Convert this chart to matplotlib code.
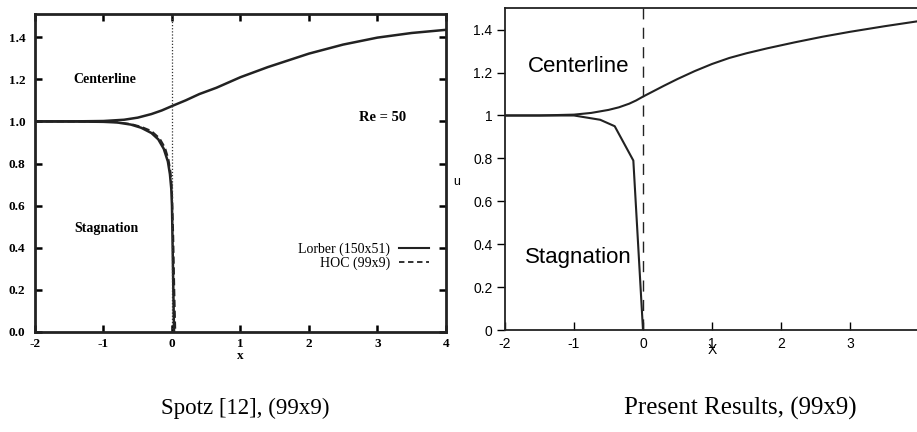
import matplotlib
matplotlib.use("Agg")
import matplotlib.pyplot as plt
from matplotlib.lines import Line2D

plt.rcParams['axes.unicode_minus'] = False

# Spotz [12] - Lorber (150x51), solid
lor_center_x = [-2.0, -1.5, -1.0, -0.7, -0.5, -0.3, -0.15, 0.0, 0.2, 0.4, 0.65, 1.0, 1.4, 2.0, 2.5, 3.0, 3.5, 4.0]
lor_center_u = [1.0, 1.0, 1.002, 1.008, 1.018, 1.035, 1.052, 1.073, 1.10, 1.13, 1.16, 1.21, 1.258, 1.322, 1.365, 1.398, 1.42, 1.435]
lor_stag_x = [-2.0, -1.5, -1.0, -0.8, -0.6, -0.45, -0.3, -0.2, -0.12, -0.06, -0.03, -0.01, 0.0, 0.01, 0.02, 0.03]
lor_stag_u = [1.0, 1.0, 0.998, 0.995, 0.985, 0.97, 0.945, 0.915, 0.87, 0.81, 0.75, 0.68, 0.6, 0.4, 0.2, 0.0]

# Spotz [12] - HOC (99x9), dashed
hoc_stag_x = [-2.0, -1.0, -0.8, -0.6, -0.45, -0.3, -0.18, -0.1, -0.05, -0.02, 0.0, 0.02, 0.035, 0.05]
hoc_stag_u = [1.0, 0.999, 0.996, 0.988, 0.975, 0.955, 0.92, 0.875, 0.82, 0.76, 0.68, 0.45, 0.2, 0.0]

# Present results (99x9)
pr_center_x = [-2.0, -1.5, -1.0, -0.75, -0.5, -0.35, -0.2, -0.1, 0.0, 0.15, 0.3, 0.5, 0.75, 1.0, 1.25, 1.5, 1.8, 2.2, 2.6, 3.0, 3.5, 4.0]
pr_center_u = [1.0, 1.0, 1.004, 1.012, 1.026, 1.038, 1.055, 1.07, 1.088, 1.113, 1.138, 1.17, 1.207, 1.24, 1.268, 1.29, 1.313, 1.341, 1.367, 1.39, 1.416, 1.44]
pr_stag_x = [-2.0, -1.0, -0.62, -0.41, -0.14, 0.0]
pr_stag_u = [1.0, 1.0, 0.98, 0.95, 0.79, 0.0]

xticks = [-2, -1, 0, 1, 2, 3, 4]
left_xlabels = ['-2', '-1', '0', '1', '2', '3', '4']
right_xlabels = ['-2', '-1', '0', '1', '2', '3', '']
yticks = [0.0, 0.2, 0.4, 0.6, 0.8, 1.0, 1.2, 1.4]
left_ylabels = ['0.0', '0.2', '0.4', '0.6', '0.8', '1.0', '1.2', '1.4']
right_ylabels = ['0', '0.2', '0.4', '0.6', '0.8', '1', '1.2', '1.4']

fig = plt.figure(figsize=(9.17, 4.32), dpi=100)

serif = ['Liberation Serif', 'DejaVu Serif']
sans = ['Liberation Sans', 'DejaVu Sans']

# ---- left panel (Spotz) ----
ax1 = fig.add_axes([0.0382, 0.2315, 0.448, 0.736])
ax1.plot(lor_center_x, lor_center_u, color='#222222', lw=1.8)
ax1.plot(lor_stag_x, lor_stag_u, color='#222222', lw=1.8)
ax1.plot(hoc_stag_x, hoc_stag_u, color='#222222', lw=1.3, linestyle=(0, (4, 2)))
ax1.axvline(0, color='#333333', lw=0.9, linestyle=(0, (1, 1.5)))
ax1.set_xlim(-2, 4)
ax1.set_ylim(0, 1.51)
ax1.set_xticks(xticks)
ax1.set_xticklabels(left_xlabels)
ax1.set_yticks(yticks)
ax1.set_yticklabels(left_ylabels)
ax1.tick_params(direction='in', top=True, right=True, length=5, width=1.8,
                labelsize=9.5)
ax1.tick_params(axis='y', pad=7)
ax1.tick_params(axis='x', pad=4)
for lab in ax1.get_xticklabels() + ax1.get_yticklabels():
    lab.set_family(serif)
    lab.set_fontweight('bold')
for sp in ax1.spines.values():
    sp.set_linewidth(2)
    sp.set_color('#222222')
ax1.set_xlabel('x', family=serif, fontweight='bold', fontsize=9.5, labelpad=0)
ax1.text(-0.98, 1.2, 'Centerline', family=serif, fontweight='bold', fontsize=10,
         ha='center', va='center')
ax1.text(-0.95, 0.49, 'Stagnation', family=serif, fontweight='bold', fontsize=10,
         ha='center', va='center')
ax1.text(3.07, 1.02, 'Re = 50', family=serif, fontweight='bold', fontsize=10.5,
         ha='center', va='center')

legend_elements = [
    Line2D([0], [0], color='#222222', lw=1.5, label='Lorber (150x51)'),
    Line2D([0], [0], color='#222222', lw=1.3, linestyle=(0, (3, 2)), label='HOC (99x9)'),
]
ax1.legend(handles=legend_elements, loc='lower right', bbox_to_anchor=(0.99, 0.155),
           frameon=False, markerfirst=False, handlelength=2.2, handletextpad=0.6,
           labelspacing=0.05, prop={'family': serif, 'size': 10})

# ---- right panel (present results) ----
ax2 = fig.add_axes([0.5507, 0.236, 0.4515, 0.745])
ax2.plot(pr_center_x, pr_center_u, color='#222222', lw=1.5)
ax2.plot(pr_stag_x, pr_stag_u, color='#222222', lw=1.5)
ax2.axvline(0, color='#222222', lw=1.0, linestyle=(0, (8, 6)))
ax2.set_xlim(-2, 4)
ax2.set_ylim(0, 1.5)
ax2.set_xticks(xticks)
ax2.set_xticklabels(right_xlabels)
ax2.set_yticks(yticks)
ax2.set_yticklabels(right_ylabels)
ax2.tick_params(axis='x', direction='in', length=6, width=1.0, labelsize=10, pad=5)
ax2.tick_params(axis='y', direction='out', length=6, width=1.0, labelsize=10, pad=3)
for lab in ax2.get_xticklabels() + ax2.get_yticklabels():
    lab.set_family(sans)
for sp in ax2.spines.values():
    sp.set_linewidth(1.3)
    sp.set_color('#222222')
# the reference prints "X" on top of the "1" tick label
ax2.set_xlabel('X', family=sans, fontsize=10, labelpad=-6)
ax2.text(-0.94, 1.23, 'Centerline', family=sans, fontsize=16, ha='center', va='center')
ax2.text(-0.93, 0.34, 'Stagnation', family=sans, fontsize=16, ha='center', va='center')

# stray "u" axis label between the panels
fig.text(457 / 917, 1 - 182 / 432, 'u', family=sans, fontsize=9, ha='center', va='center')

# captions
fig.text(245 / 917, 1 - 408 / 432, 'Spotz [12], (99x9)', family=serif, fontsize=16.5,
         ha='center', va='center')
fig.text(740 / 917, 1 - 408 / 432, 'Present Results, (99x9)', family=serif, fontsize=18,
         ha='center', va='center')

fig.savefig('out.png', dpi=100)
